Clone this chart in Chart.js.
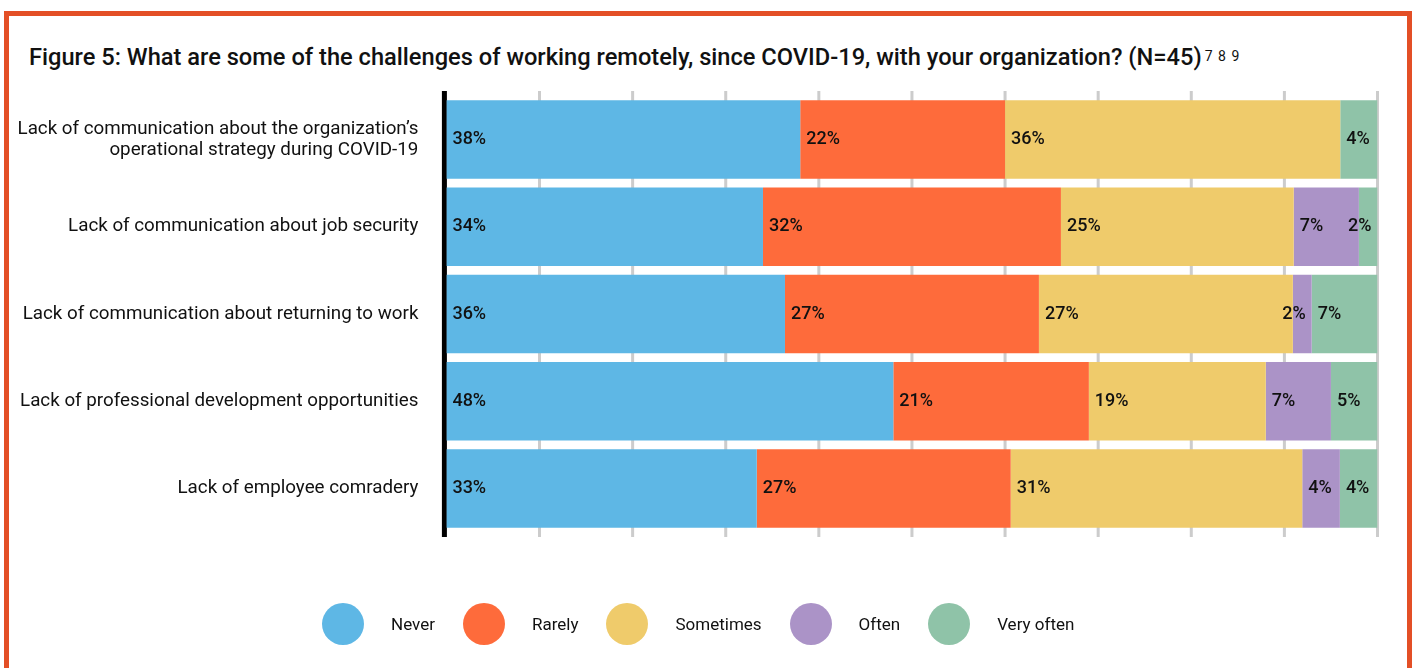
<!DOCTYPE html>
<html>
<head>
<meta charset="utf-8">
<title>Remote work challenges</title>
<script src="https://cdn.jsdelivr.net/npm/chart.js@4"></script>
<style>
    html, body { margin: 0; padding: 0; background: #fff; overflow: hidden; }
    body { position: relative; width: 1414px; height: 668px; font-family: Roboto, sans-serif; color: #111; }
    .frame { position: absolute; left: 4px; top: 11px; width: 1398px; height: 720px; border: 5px solid #e34f26; }
    #chart { position: absolute; left: 0; top: 0; }
    .title { position: absolute; left: 29px; top: 44px; font-size: 23.65px; line-height: 24px; font-weight: 500; white-space: nowrap; }
    .title sup { font-size: 14px; vertical-align: 4px; margin-left: 3px; font-weight: 400; word-spacing: 2px; }
    #legend { position: absolute; left: 322px; top: 603px; display: flex; align-items: center; }
    #legend .item { display: flex; align-items: center; margin-right: 28px; }
    #legend .dot { width: 42px; height: 42px; border-radius: 50%; margin-right: 27px; }
    #legend span { font-size: 17px; }
</style>
</head>
<body>
<div class="frame"></div>
<div class="title">Figure 5: What are some of the challenges of working remotely, since COVID-19, with your organization? (N=45)<sup>7 8 9</sup></div>
<canvas id="chart"></canvas>
<div id="legend"></div>

<script>
var categories = [
    ['Lack of communication about the organization\u2019s', 'operational strategy during COVID-19'],
    'Lack of communication about job security',
    'Lack of communication about returning to work',
    'Lack of professional development opportunities',
    'Lack of employee comradery'
];
var seriesNames = ['Never', 'Rarely', 'Sometimes', 'Often', 'Very often'];
var seriesColors = ['#5eb7e5', '#fe6b3b', '#efcb6b', '#ab93c7', '#8fc3a8'];

// percent of respondents per answer, one value per category
var never = [38, 34, 36, 48, 33];
var rarely = [22, 32, 27, 21, 27];
var sometimes = [36, 25, 27, 19, 31];
var often = [0, 7, 2, 7, 4];
var veryOften = [4, 2, 7, 5, 4];

var xTicks = [0, 10, 20, 30, 40, 50, 60, 70, 80, 90, 100];

document.addEventListener('DOMContentLoaded', function () {

    var series = [never, rarely, sometimes, often, veryOften];

    // rounded shares don't always add up to 100, so each row is stretched to full width
    var rowTotals = categories.map(function (c, i) {
        return series.reduce(function (sum, s) { return sum + s[i]; }, 0);
    });

    var datasets = series.map(function (values, k) {
        return {
            label: seriesNames[k],
            data: values.map(function (v, i) { return v / rowTotals[i] * 100; }),
            shares: values,
            backgroundColor: seriesColors[k],
            borderWidth: 0,
            categoryPercentage: 1,
            barPercentage: 0.9
        };
    });

    // vertical grid + black baseline, running a little past the plot area
    var gridLines = {
        id: 'gridLines',
        beforeDatasetsDraw: function (chart) {
            var ctx = chart.ctx;
            var area = chart.chartArea;
            var x = chart.scales.x;
            ctx.save();
            ctx.fillStyle = '#cccccc';
            xTicks.forEach(function (t) {
                if (t === 0) return;
                var px = x.getPixelForValue(t);
                ctx.fillRect(px - 1.5, area.top - 5, 3, area.bottom - area.top + 10);
            });
            ctx.fillStyle = '#000';
            var x0 = x.getPixelForValue(0);
            ctx.fillRect(x0 - 4.5, area.top - 5, 5, area.bottom - area.top + 10);
            ctx.restore();
        }
    };

    // percentage text at the start of each segment
    var barLabels = {
        id: 'barLabels',
        afterDatasetsDraw: function (chart) {
            var ctx = chart.ctx;
            ctx.save();
            ctx.font = '500 18px Roboto';
            ctx.fillStyle = '#111';
            ctx.textBaseline = 'middle';
            chart.data.datasets.forEach(function (ds, di) {
                chart.getDatasetMeta(di).data.forEach(function (bar, i) {
                    var v = ds.shares[i];
                    if (!v) return;
                    var text = v + '%';
                    var left = Math.min(bar.base, bar.x);
                    var right = Math.max(bar.base, bar.x);
                    var w = ctx.measureText(text).width;
                    if (right - left >= w + 12) {
                        ctx.textAlign = 'left';
                        ctx.fillText(text, left + 6, bar.y);
                    } else {
                        ctx.textAlign = 'right';
                        ctx.fillText(text, right - 6, bar.y);
                    }
                });
            });
            ctx.restore();
        }
    };

    var ctx = document.getElementById('chart').getContext('2d');
    ctx.canvas.width = 1414;
    ctx.canvas.height = 668;
    var chart = new Chart(ctx, {
        type: 'bar',
        data: {
            labels: categories,
            datasets: datasets
        },
        options: {
            responsive: false,
            animation: false,
            indexAxis: 'y',
            layout: {
                padding: { top: 96, bottom: 136, left: 0, right: 36.5 }
            },
            plugins: {
                legend: { display: false },
                tooltip: { enabled: false }
            },
            scales: {
                x: {
                    display: false,
                    stacked: true,
                    min: 0,
                    max: 100
                },
                y: {
                    stacked: true,
                    grid: { display: false, drawTicks: false },
                    border: { display: false },
                    ticks: {
                        padding: 28,
                        color: '#111',
                        font: { family: 'Roboto', size: 18.8, lineHeight: 1.12 }
                    },
                    afterFit: function (scale) {
                        scale.width = 446.4;
                    }
                }
            }
        },
        plugins: [gridLines, barLabels]
    });

    var legend = document.getElementById('legend');
    seriesNames.forEach(function (name, k) {
        var item = document.createElement('div');
        item.className = 'item';
        var dot = document.createElement('div');
        dot.className = 'dot';
        dot.style.background = seriesColors[k];
        var label = document.createElement('span');
        label.textContent = name;
        item.appendChild(dot);
        item.appendChild(label);
        legend.appendChild(item);
    });

});
</script>
</body>
</html>
